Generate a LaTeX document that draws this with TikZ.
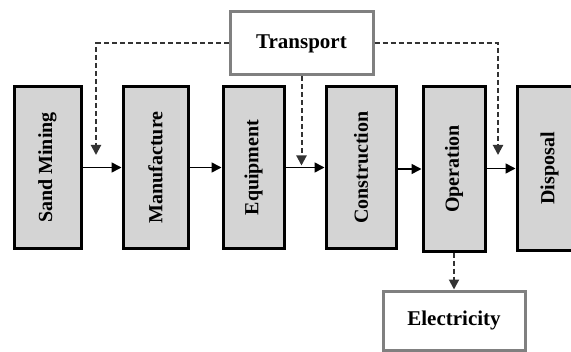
\documentclass[tikz,border=0pt]{standalone}
\usepackage{fontspec}
\setmainfont{Liberation Serif}
\usetikzlibrary{calc,arrows.meta}

\begin{document}
\begin{tikzpicture}[x=0.5pt,y=-0.5pt,
    stage/.style={draw=black,line width=1.5pt,fill=black!17,rotate=90,
      minimum width=80.5pt,inner sep=0pt,font=\bfseries\fontsize{10}{12}\selectfont},
    source/.style={draw=black!50,line width=1.5pt,fill=white,inner sep=0pt,
      font=\bfseries\fontsize{10.5}{12}\selectfont},
    flow/.style={line width=0.8pt,-{Triangle[length=5pt,width=5pt]}},
    supply/.style={line width=1pt,black!80,dash pattern=on 2.5pt off 1.5pt,
      -{Triangle[length=5pt,width=5pt]}}]
  \useasboundingbox (0,0) rectangle (571,352);

  % life-cycle stages
  \node[stage,minimum height=33.5pt] (sand) at (47.5,167.5) {Sand Mining};
  \node[stage,minimum height=32.5pt] (manuf) at (155.5,167.5) {Manufacture};
  \node[stage,minimum height=30.5pt] (equip) at (253.5,167.5) {Equipment};
  \node[stage,minimum height=35pt] (constr) at (361,167.5) {Construction};
  \node[stage,minimum height=31pt,minimum width=82pt] (oper) at (454,169) {Operation};
  \node[stage,minimum height=32.5pt,minimum width=81.5pt] (disp) at (549.5,168.5) {Disposal};

  % inputs
  \node[source,minimum width=71.5pt,minimum height=31.5pt] (transport) at (301.5,43.5) {Transport};
  \node[source,minimum width=71pt,minimum height=29.5pt] (elec) at (454,320.5) {Electricity};

  \coordinate (dropA) at (96,155);
  \coordinate (dropB) at (498,155);

  \draw[flow] (sand) -- (manuf);
  \draw[flow] (manuf) -- (equip);
  \draw[flow] (equip) -- (constr);
  \draw[flow] (constr.south |- oper.north) -- (oper.north);
  \draw[flow] (oper.south |- disp.north) -- (disp.north);

  \draw[supply] (transport.west) -| (dropA);
  \draw[supply] (transport.east) -| (dropB);
  \draw[supply] (transport.south) -- ($(transport.south |- equip.south)+(0,-2)$);
  \draw[supply] (oper.west) -- (elec.north);
\end{tikzpicture}
\end{document}
